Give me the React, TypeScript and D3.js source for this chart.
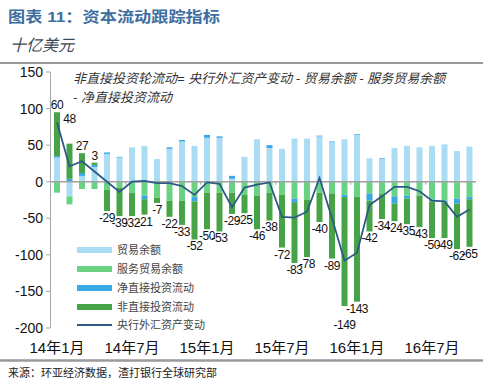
import React from "react";
import * as d3 from "d3";

// monthly categories, Jan 2014 - Oct 2016
const months = [
  "2014-01", "2014-02", "2014-03", "2014-04", "2014-05", "2014-06",
  "2014-07", "2014-08", "2014-09", "2014-10", "2014-11", "2014-12",
  "2015-01", "2015-02", "2015-03", "2015-04", "2015-05", "2015-06",
  "2015-07", "2015-08", "2015-09", "2015-10", "2015-11", "2015-12",
  "2016-01", "2016-02", "2016-03", "2016-04", "2016-05", "2016-06",
  "2016-07", "2016-08", "2016-09", "2016-10",
];
const tickMonths = ["2014-01", "2014-07", "2015-01", "2015-07", "2016-01", "2016-07"];
const tickLabels = ["14年1月", "14年7月", "15年1月", "15年7月", "16年1月", "16年7月"];
const yTicks = [150, 100, 50, 0, -50, -100, -150, -200];

// USD bn
const tradeBalance = [33, -20, 8, 20, 38, 33, 47, 49, 31, 45, 55, 49, 60, 60, 4, 34, 58, 46, 45, 59, 59, 62, 54, 58, 64, 32, 31, 46, 49, 47, 49, 51, 42, 48];
const serviceBalance = [-15, -11, -10, -10, -11, -8, -15, -19, -22, -26, -26, -21, -15, -15, -15, -18, -19, -15, -18, -23, -25, -15, -16, -18, -21, -16, -17, -20, -19, -19, -24, -26, -23, -21];
const netFdi = [2, 4, 4, 3, 2, 1, 0, -5, 0, 2, 2, -6, 4, 2, 4, 0, 0, 4, 0, -5, 0, 1, 1, -3, 1, -10, 1, -10, -4, 0, -3, -2, -7, -3];
const nonDirectFlows = [60, 48, 27, 3, -29, -39, -32, -21, -7, -22, -33, -52, -50, -53, -29, -25, -46, -38, -72, -83, -78, -40, -89, -149, -143, -42, -34, -24, -35, -43, -50, -49, -62, -65];
const fxAssetChange = [81, 21, 28, 14, 0, -14, 0, 1, -2, -2, -6, -18, -1, -3, -35, -8, -4, -1, -48, -49, -41, 5, -50, -108, -97, -32, -20, -7, -7, -13, -26, -27, -48, -38];

const seriesNames = ["贸易余额", "服务贸易余额", "净直接投资流动", "非直接投资流动", "央行外汇资产变动"];

const keys = ["trade", "services", "fdi", "nonDirect"];
const colors: Record<string, string> = {
  trade: "#aadcf4",
  services: "#6ad283",
  fdi: "#3aa8e4",
  nonDirect: "#46a346",
  line: "#2c5a85",
};
// manual label shifts where excel moved labels apart
const labelNudge: Record<number, number> = { 1: -18, 23: 12 };

const NUM_FONT = "'Liberation Sans', Arial, 'Noto Sans CJK SC', sans-serif";
const CJK_FONT = "'Liberation Sans', 'Noto Sans CJK SC', sans-serif";

export default function App() {
  const W = 500;
  const H = 392;

  const x = d3.scaleBand<string>()
    .domain(months)
    .range([50.75, 475.75])
    .paddingInner(0.52)
    .paddingOuter(0.26);

  const y = d3.scaleLinear().domain([-200, 150]).range([328, 72]);

  const rows = months.map((m, i) => ({
    month: m,
    trade: tradeBalance[i],
    services: serviceBalance[i],
    fdi: netFdi[i],
    nonDirect: nonDirectFlows[i],
  }));

  const stacked = d3.stack<any>().keys(keys).offset(d3.stackOffsetDiverging)(rows);

  const cx = (m: string) => (x(m) ?? 0) + x.bandwidth() / 2;

  const line = d3.line<number>()
    .x((_, i) => cx(months[i]))
    .y(d => y(d));

  const ndLayer = stacked[3];

  const legendY = [250, 269, 288, 307, 325];

  return (
    <svg width={W} height={H} style={{ position: "absolute", left: 0, top: 0, background: "#fff" }}>
      {/* header */}
      <text x={8} y={22} fontFamily={CJK_FONT} fontWeight="bold" fontSize={15} fill="#3d6e9f" textLength={212} lengthAdjust="spacingAndGlyphs">
        图表 11：资本流动跟踪指标
      </text>
      <text x={10} y={51} fontFamily={CJK_FONT} fontStyle="italic" fontSize={16} fill="#3e4a58">
        十亿美元
      </text>
      <line x1={0} x2={483} y1={63} y2={63} stroke="#9a9a9a" strokeWidth={2} />

      {/* annotation */}
      <text x={73} y={83} fontFamily={CJK_FONT} fontStyle="italic" fontSize={13} fill="#333">
        非直接投资轮流动= 央行外汇资产变动 - 贸易余额 - 服务贸易余额
      </text>
      <text x={73} y={102} fontFamily={CJK_FONT} fontStyle="italic" fontSize={13} fill="#333">
        - 净直接投资流动
      </text>

      {/* y axis */}
      <line x1={50.5} x2={50.5} y1={y(150)} y2={y(-200)} stroke="#a8a8a8" strokeWidth={1} />
      {yTicks.map(t => (
        <g key={t}>
          <line x1={46} x2={50.5} y1={y(t)} y2={y(t)} stroke="#a8a8a8" />
          <text x={43} y={y(t)} dy="0.36em" textAnchor="end" fontFamily={NUM_FONT} fontSize={14} fill="#111">
            {t}
          </text>
        </g>
      ))}

      {/* bars */}
      {stacked.map(layer => (
        <g key={layer.key} fill={colors[layer.key]}>
          {layer.map((d, i) => (
            <rect
              key={i}
              x={x(months[i])}
              width={x.bandwidth()}
              y={y(Math.max(d[0], d[1]))}
              height={Math.abs(y(d[0]) - y(d[1]))}
            />
          ))}
        </g>
      ))}

      {/* zero line + category ticks */}
      <line x1={50.5} x2={476} y1={y(0)} y2={y(0)} stroke="#a0a0a0" strokeWidth={1.5} />
      {tickMonths.slice(1).map(m => (
        <line key={m} x1={x(m)! - x.step() * 0.26} x2={x(m)! - x.step() * 0.26} y1={y(0)} y2={y(0) + 3} stroke="#a0a0a0" />
      ))}

      {/* fx asset change line */}
      <path d={line(fxAssetChange) ?? ""} fill="none" stroke={colors.line} strokeWidth={1.8} />

      {/* data labels for non-direct flows */}
      {ndLayer.map((d, i) => {
        const v = nonDirectFlows[i];
        const nudge = labelNudge[i] ?? 0;
        const ly = v >= 0 ? y(d[1]) - 3 + nudge : y(d[0]) + 11 + nudge;
        return (
          <text key={i} x={cx(months[i])} y={ly} textAnchor="middle" fontFamily={NUM_FONT} fontSize={12} letterSpacing={-0.5} fill="#111">
            {v}
          </text>
        );
      })}

      {/* x labels */}
      {tickMonths.map((m, i) => (
        <text key={m} x={cx(m)} y={353} textAnchor="middle" fontFamily={CJK_FONT} fontSize={15} fill="#111">
          {tickLabels[i]}
        </text>
      ))}

      {/* legend */}
      {seriesNames.map((name, i) => (
        <g key={name}>
          {i < 4 ? (
            <rect x={77} y={legendY[i] - 3} width={35} height={6} fill={colors[keys[i]]} />
          ) : (
            <line x1={77} x2={112} y1={legendY[i]} y2={legendY[i]} stroke={colors.line} strokeWidth={1.8} />
          )}
          <text x={117} y={legendY[i]} dy="0.36em" fontFamily={CJK_FONT} fontSize={11} fill="#444">
            {name}
          </text>
        </g>
      ))}

      <line x1={0} x2={483} y1={360.5} y2={360.5} stroke="#9a9a9a" strokeWidth={2.5} />
      <text x={8} y={377} fontFamily={CJK_FONT} fontSize={11} fill="#222">
        来源：环亚经济数据，渣打银行全球研究部
      </text>
    </svg>
  );
}
